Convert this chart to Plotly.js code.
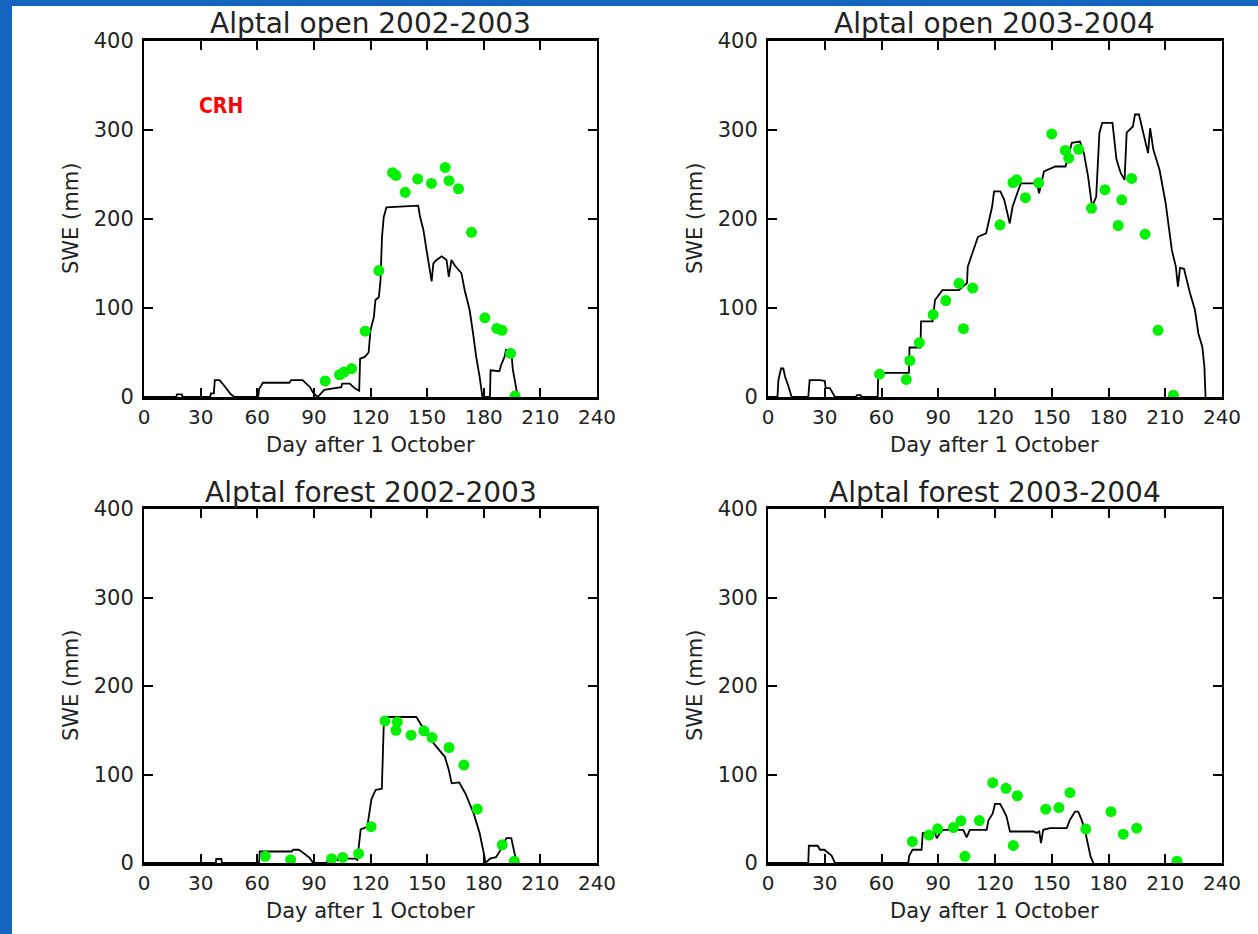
<!DOCTYPE html>
<html>
<head>
<meta charset="utf-8">
<script src="https://cdn.plot.ly/plotly-3.0.1.min.js"></script>
<style>
  html, body { margin: 0; padding: 0; background: #ffffff; }
  #chart { width: 1258px; height: 934px; }
</style>
</head>
<body>
<div id="chart"></div>
<script>
// ---------- DATA ----------
// Panel titles
const panelTitles = ["Alptal open 2002-2003", "Alptal open 2003-2004", "Alptal forest 2002-2003", "Alptal forest 2003-2004"];
const xTickVals = [0, 30, 60, 90, 120, 150, 180, 210, 240];
const yTickVals = [0, 100, 200, 300, 400];
const xTitle = "Day after 1 October";
const yTitle = "SWE (mm)";
const modelLabel = "CRH";

// Alptal open 2002-2003: simulated SWE (line) and observed SWE (dots)
const openA_day = [0, 17, 17.5, 20, 20.5, 35, 35.5, 37, 37.5, 38.5, 40, 42, 44, 46, 48, 60.5, 61, 63, 77, 78, 84, 86, 88, 89.5, 92, 95.5, 98, 100, 104.5, 105, 109, 111.5, 114, 114.5, 117, 119, 120, 121.8, 122.6, 124.4, 125.3, 126.1, 127, 128.4, 139.4, 145.3, 146.2, 148, 149.7, 151.2, 152.4, 153.3, 155, 157.7, 160.3, 161.5, 162.9, 164.6, 168.2, 169.9, 172.5, 174.3, 176, 177.8, 179.3, 183.3, 183.6, 188.3, 189.2, 191, 191.8, 194.5, 195.4, 198];
const openA_swe = [0, 0, 3, 3, 0, 0, 4, 4, 19, 19, 19, 14, 8, 3, 0, 0, 9, 16, 16, 19, 19, 15, 11, 5, 0, 8, 9, 10, 11, 15, 15, 10, 7, 43, 45, 50, 75, 90, 109, 112, 131, 180, 202, 213, 214, 215, 203, 188, 165, 146, 130, 150, 154, 158, 154, 135, 154, 148, 139, 120, 98, 72, 45, 23, 0, 0, 30, 29, 36, 45, 53, 53, 31, 0];
const openA_obsDay = [96, 103.6, 106, 110, 117.2, 124.4, 131.7, 133.5, 138.4, 145, 152.3, 159.6, 161.6, 166.6, 173.5, 180.6, 186.9, 189.7, 194.2, 196.6];
const openA_obsSwe = [18, 25, 28, 32, 74, 142, 252, 249, 230, 245, 240, 258, 243, 234, 185, 89, 77, 75, 49, 1];

// Alptal open 2003-2004
const openB_day = [0, 5, 5.5, 6.9, 8.1, 9, 10.8, 12.5, 21.3, 22, 27.5, 30, 30.5, 32.7, 35.4, 46.5, 47, 49, 49.5, 58, 58.3, 74.5, 74.8, 80.6, 80.9, 87, 88.3, 92.2, 100.9, 105.2, 105.6, 108.8, 111, 115.3, 118.5, 119.5, 122.8, 124.9, 127.8, 129.3, 133.6, 142.2, 143.3, 145.9, 151.9, 157.3, 160.6, 164.9, 167, 169.2, 171.3, 173.5, 175.2, 176.7, 182.1, 184.2, 186.4, 188.5, 189.6, 192.9, 194, 196.1, 199.4, 200.9, 202, 203.7, 207, 210.2, 213.5, 215.6, 216.7, 217.8, 219.9, 223.1, 225.7, 227.5, 229.6, 230.7, 231.3];
const openB_swe = [0, 0, 19, 32, 32, 23, 12, 0, 0, 19, 19, 18, 10, 10, 0, 0, 2, 2, 0, 0, 27, 27, 55.6, 55.6, 85, 85, 109, 120, 120, 128, 146.5, 165, 180, 184, 214, 231, 231, 221.6, 195, 214, 240, 240, 229, 253.5, 259, 259, 285.5, 287, 274, 248, 214, 225, 297, 308, 308, 267, 252, 244, 297, 304, 317.4, 317.4, 289, 274, 302, 278, 255, 218, 165, 146.5, 124, 145, 144, 116.5, 97.7, 71.4, 56.3, 33.8, 0];
const openB_obsDay = [59, 73.1, 75, 80, 87.3, 94, 101, 103.3, 108.2, 122.6, 129.5, 131.5, 136.1, 143.1, 150, 157.2, 159, 164.2, 171, 178.1, 185.1, 187, 192.2, 199.3, 206.2, 214.3];
const openB_obsSwe = [25.6, 19.8, 41, 61, 92.6, 108.3, 127.7, 76.8, 122.4, 193.5, 241, 244, 224, 240.6, 295.6, 277, 268.3, 278.3, 212, 233, 192.7, 221.6, 245.6, 183, 75, 2];

// Alptal forest 2002-2003
const forA_day = [0, 38, 38.3, 41, 41.3, 61, 61.3, 78.3, 79, 82, 84, 87.7, 89.6, 96.7, 97.5, 104, 106.5, 111.8, 113, 114.8, 118.3, 120.5, 122.7, 126, 127, 128.2, 144.3, 146.4, 150.7, 155, 159.4, 161.5, 163, 167, 170.2, 174.6, 177.8, 180, 181, 183.3, 186.5, 188.7, 192, 194.6, 196.3, 198];
const forA_swe = [0, 0, 4.5, 4.5, 0, 0, 13, 13, 15, 15, 12, 6, 0, 0, 3.4, 3.4, 5, 5, 3.4, 38, 41, 72, 82.5, 84, 154, 165, 165, 157.6, 142.5, 131.2, 120, 105, 90, 91, 78.8, 56.3, 33.8, 11.3, 0, 5, 6.5, 14, 28, 28, 11, 0];
const forA_obsDay = [64.3, 77.7, 99.4, 105.3, 113.7, 120.3, 127.7, 134.2, 133.5, 141.5, 148.3, 152.6, 161.6, 169.5, 176.6, 189.8, 196.2];
const forA_obsSwe = [7.5, 3.7, 4.8, 6.3, 10.5, 41, 160.5, 159.4, 150, 144.4, 149.3, 141.8, 130.5, 110.6, 61, 20.6, 2];

// Alptal forest 2003-2004
const forB_day = [0, 21.3, 21.6, 26.3, 27.5, 29.8, 31.9, 33.6, 35.4, 74.2, 74.6, 76.4, 81.2, 81.8, 88.3, 89.2, 91, 92.7, 103.2, 105, 106.7, 115.6, 116.5, 118.8, 120, 122.7, 124.4, 126.1, 127.9, 129.7, 140.2, 142, 143.4, 144.3, 145.5, 149, 157.9, 159.6, 162.3, 164, 165.8, 167.5, 169.3, 170.5, 172];
const forB_swe = [0, 0, 19.5, 19.5, 15, 15, 11.3, 8.3, 0, 0, 8, 15, 15, 33.8, 33.8, 28, 33.8, 37.5, 37.5, 29, 37.5, 37.5, 48, 56, 66.7, 66.7, 60, 52.4, 35.6, 35.6, 35.6, 34, 35.6, 22.5, 37.5, 39.4, 39.4, 48.7, 58, 58, 48.7, 37.5, 18.7, 7.5, 0];
const forB_obsDay = [76.3, 85.1, 89.7, 98, 102, 104.1, 111.7, 118.8, 125.8, 131.8, 129.7, 146.8, 153.8, 159.6, 168, 181.3, 187.8, 194.9, 216.2];
const forB_obsSwe = [24.3, 31.5, 38.6, 40, 47.6, 7.5, 48, 90.7, 84.4, 76, 19.8, 60.8, 62.6, 79.5, 38.3, 58, 32.6, 39.4, 2];

// ---------- LAYOUT / STYLE ----------
const W = 1258, H = 934;
const FONT = "DejaVu Sans, Liberation Sans, sans-serif";
const TXT = "#222222";
const GREEN = "#00f000";
const BLUE = "#1565c0";

// plot-area pixel boxes [left, right, top, bottom]
const boxes = [
  [144, 597, 41, 397],
  [768, 1222, 41, 397],
  [144, 597, 509, 863],
  [768, 1222, 509, 863]
];

const series = [
  [openA_day, openA_swe, openA_obsDay, openA_obsSwe],
  [openB_day, openB_swe, openB_obsDay, openB_obsSwe],
  [forA_day, forA_swe, forA_obsDay, forA_obsSwe],
  [forB_day, forB_swe, forB_obsDay, forB_obsSwe]
];

const px = x => x / W;
const py = y => 1 - y / H;

const traces = [];
const layout = {
  width: W, height: H,
  margin: {l: 0, r: 0, t: 0, b: 0},
  paper_bgcolor: "#ffffff",
  plot_bgcolor: "#ffffff",
  showlegend: false,
  annotations: [],
  shapes: [
    {type: "rect", xref: "paper", yref: "paper", x0: 0, x1: px(12), y0: 0, y1: 1, fillcolor: BLUE, line: {width: 0}},
    {type: "rect", xref: "paper", yref: "paper", x0: 0, x1: 1, y0: py(6), y1: 1, fillcolor: BLUE, line: {width: 0}}
  ]
};

boxes.forEach((b, i) => {
  const n = i === 0 ? "" : String(i + 1);
  const xa = "x" + n, ya = "y" + n;
  const s = series[i];
  traces.push({
    x: s[0], y: s[1], xaxis: xa, yaxis: ya, type: "scatter", mode: "lines",
    line: {color: "#000000", width: 1.8}, hoverinfo: "skip"
  });
  traces.push({
    x: s[2], y: s[3], xaxis: xa, yaxis: ya, type: "scatter", mode: "markers",
    marker: {color: GREEN, size: 11, line: {width: 0}}, hoverinfo: "skip"
  });
  layout["xaxis" + n] = {
    domain: [px(b[0]), px(b[1])], anchor: ya, range: [0, 240],
    tickvals: xTickVals, ticktext: xTickVals.map(String),
    ticks: "inside", ticklen: 9, tickwidth: 2, tickcolor: "#000",
    showline: true, linecolor: "#000", linewidth: 3, mirror: "ticks",
    showgrid: false, zeroline: false, fixedrange: true,
    ticklabelstandoff: 0,
    tickfont: {family: FONT, size: 20, color: TXT}
  };
  layout["yaxis" + n] = {
    domain: [py(b[3]), py(b[2])], anchor: xa, range: [0, 400],
    tickvals: yTickVals, ticktext: yTickVals.map(String),
    ticks: "inside", ticklen: 9, tickwidth: 2, tickcolor: "#000",
    showline: true, linecolor: "#000", linewidth: 2, mirror: "ticks",
    showgrid: false, zeroline: false, fixedrange: true,
    ticklabelstandoff: 4,
    tickfont: {family: FONT, size: 21, color: TXT}
  };
  const cx = (b[0] + b[1]) / 2, cy = (b[2] + b[3]) / 2;
  layout.annotations.push({
    text: panelTitles[i], xref: "paper", yref: "paper", x: px(cx), y: py(b[2] - 17),
    xanchor: "center", yanchor: "middle", showarrow: false,
    font: {family: FONT, size: 28, color: TXT}
  });
  layout.annotations.push({
    text: xTitle, xref: "paper", yref: "paper", x: px(cx), y: py(b[3] + 48),
    xanchor: "center", yanchor: "middle", showarrow: false,
    font: {family: FONT, size: 21, color: TXT}
  });
  layout.annotations.push({
    text: yTitle, xref: "paper", yref: "paper", x: px(b[0] - 73), y: py(cy),
    xanchor: "center", yanchor: "middle", showarrow: false, textangle: -90,
    font: {family: FONT, size: 21, color: TXT}
  });
});

layout.annotations.push({
  text: "<b>" + modelLabel + "</b>", xref: "paper", yref: "paper", x: px(221), y: py(106),
  xanchor: "center", yanchor: "middle", showarrow: false,
  font: {family: "DejaVu Sans Condensed, DejaVu Sans, sans-serif", size: 21, color: "#ff0000"}
});

Plotly.newPlot("chart", traces, layout, {staticPlot: true, displayModeBar: false});
</script>
</body>
</html>
